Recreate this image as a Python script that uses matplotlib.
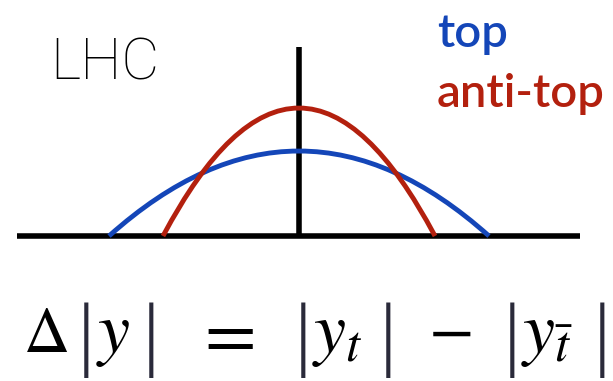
import matplotlib.pyplot as plt
from matplotlib.path import Path
from matplotlib.patches import PathPatch

# schematic rapidity distributions: half-width of each curve and peak height
curves = ['top', 'anti-top']
half_width = [1.90, 1.36]
peak = [0.85, 1.28]
colors = ['#1446b8', '#b3200e']

# axis extents
x_axis = [-2.82, 2.81]
y_axis_top = 1.89

plt.rcParams['mathtext.fontset'] = 'stix'

W, H = 613, 381
fig = plt.figure(figsize=(W / 100, H / 100), dpi=100)
ax = fig.add_axes([0, 0, 1, 1])
ax.set_xlim(-2.99, 3.14)
ax.set_ylim(-1.45, 2.36)
ax.axis('off')

ax.plot(x_axis, [0, 0], color='black', lw=4, solid_capstyle='butt', zorder=1)
ax.plot([0, 0], [0, y_axis_top], color='black', lw=4, solid_capstyle='butt', zorder=1)

for w, h, c in zip(half_width, peak, colors):
    # quadratic bezier -> parabola through both ends with the given peak
    verts = [(-w, 0), (0, 2 * h), (w, 0)]
    path = Path(verts, [Path.MOVETO, Path.CURVE3, Path.CURVE3])
    ax.add_patch(PathPatch(path, fill=False, edgecolor=c, lw=3.5, zorder=2))


def put(px, py, s, **kw):
    # place text by pixel position measured from the top-left corner
    fig.text(px / W, 1 - py / H, s, **kw)


put(50, 80, 'LHC', fontsize=42, family='Roboto', weight='light',
    va='baseline', ha='left')
put(437, 47, curves[0], fontsize=34, family='Lato', weight='semibold',
    color=colors[0], va='baseline', ha='left')
put(437, 107, curves[1], fontsize=34, family='Lato', weight='semibold',
    color=colors[1], va='baseline', ha='left')

# Delta|y| = |y_t| - |y_tbar|, set piece by piece so the bars can be tall
base = 352
put(23, base, r'$\Delta$', fontsize=46, va='baseline', ha='left')
put(96, base, r'$y$', fontsize=52, va='baseline', ha='left')
put(224, base + 4, r'$=$', fontsize=54, va='baseline', ha='center')
put(312, base, r'$y_t$', fontsize=52, va='baseline', ha='left')
put(450, base - 2, r'$-$', fontsize=48, va='baseline', ha='center')
put(521, base, r'$y_{\bar{t}}$', fontsize=52, va='baseline', ha='left')
for bx in [86, 151, 303, 388, 512, 602]:
    put(bx, 302, '|', fontsize=60, family='Liberation Serif', va='top',
        ha='center', color='#2a2a3a')

fig.savefig('out.png', dpi=100)
